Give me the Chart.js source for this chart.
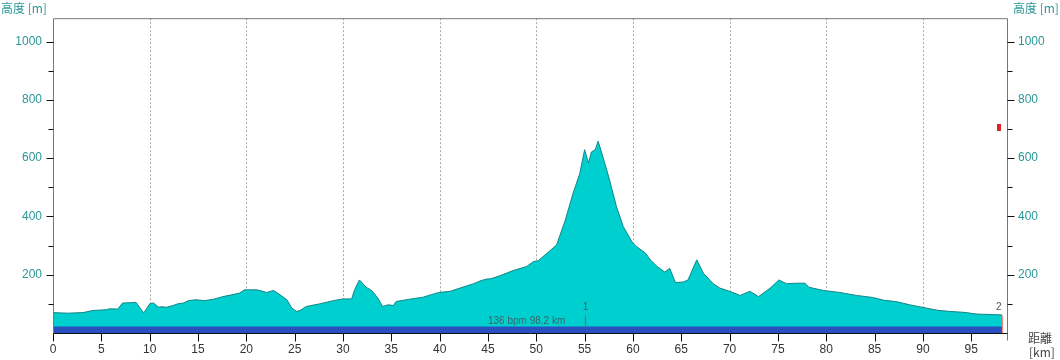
<!DOCTYPE html>
<html>
<head>
<meta charset="utf-8">
<script src="https://cdn.jsdelivr.net/npm/chart.js@4.4.1/dist/chart.umd.min.js"></script>
<style>
  html, body { margin: 0; padding: 0; background: #fff; }
  #wrap { width: 1060px; height: 360px; }
</style>
</head>
<body>
<div id="wrap"><canvas id="profile" width="1060" height="360"></canvas></div>
<script>
// elevation profile
const distanceKm = [0, 1.5, 3.1, 4.1, 5.5, 5.9, 6.7, 7.2, 8.0, 8.6, 9.0, 9.4, 10.0, 10.4, 10.9, 11.4, 11.7, 12.4, 12.9, 13.5,
  14.0, 14.8, 15.7, 16.6, 17.6, 18.5, 19.3, 19.8, 21.1, 21.7, 22.1, 22.8, 23.5, 24.2, 24.7, 25.2, 25.6, 26.2, 27.6, 29.0,
  30.0, 30.9, 31.2, 31.7, 32.4, 33.0, 33.6, 34.1, 34.7, 35.2, 35.5, 36.9, 38.3, 39.9, 41.1, 42.1, 43.5, 44.3, 45.0, 45.2,
  46.2, 47.6, 49.0, 49.7, 50.2, 51.4, 52.1, 53.0, 53.8, 54.5, 55.0, 55.4, 55.7, 56.1, 56.4, 56.8, 57.5, 58.3, 59.0, 59.9,
  60.4, 61.3, 61.8, 62.5, 63.3, 63.8, 64.4, 65.2, 65.7, 66.6, 67.3, 68.3, 69.0, 70.0, 71.1, 72.1, 73.0, 74.2, 75.1, 75.9,
  77.0, 77.8, 78.2, 79.7, 81.4, 83.1, 84.8, 86.0, 87.2, 88.6, 89.8, 91.5, 92.8, 94.2, 95.6, 98.2];
const elevationM = [70, 68, 70, 77, 80, 83, 82, 103, 104, 105, 86, 69, 100, 103, 89, 90, 88, 94, 100, 103,
  111, 114, 111, 116, 125, 131, 137, 148, 148, 143, 139, 146, 131, 114, 86, 74, 78, 91, 100, 111,
  117, 117, 148, 182, 157, 145, 120, 91, 97, 94, 108, 116, 123, 139, 143, 154, 169, 180, 186, 185,
  196, 214, 228, 245, 248, 282, 302, 387, 479, 547, 629, 583, 621, 629, 658, 615, 535, 433, 365, 313,
  296, 274, 251, 228, 209, 222, 173, 175, 182, 251, 205, 169, 154, 143, 129, 143, 125, 154, 182, 169,
  171, 171, 157, 146, 139, 129, 122, 112, 108, 97, 89, 78, 74, 71, 65, 62];

// heart-rate band along the bottom
const bandKm = [0, 98.2];
const bandM = [22, 22];

const xTickKm = [0, 5, 10, 15, 20, 25, 30, 35, 40, 45, 50, 55, 60, 65, 70, 75, 80, 85, 90, 95];
const xGridKm = [10, 20, 30, 40, 50, 60, 70, 80, 90];
const yTickM = [200, 400, 600, 800, 1000];
const yMinorM = [100, 300, 500, 700, 900];

const lapKm = [55, 98.2];
const lapNames = ["1", "2"];
const summaryText = "136 bpm 98.2 km";
const summaryKm = 45;
const hrMarkKm = [97.9];
const hrMarkM = [707];

const TEAL_TEXT = "#2a9696";
const numFont = "Liberation Sans, Arial, sans-serif";
const cjkFont = "'Noto Sans CJK JP', sans-serif";

const framePlugin = {
    id: "profileFrame",
    beforeDatasetsDraw(chart) {
        const { ctx, chartArea } = chart;
        const xs = chart.scales.x;
        ctx.save();
        ctx.strokeStyle = "#a8a8a8";
        ctx.lineWidth = 1;
        ctx.setLineDash([2, 2]);
        xGridKm.forEach((km) => {
            const px = Math.round(xs.getPixelForValue(km)) + 0.5;
            ctx.beginPath();
            ctx.moveTo(px, chartArea.top);
            ctx.lineTo(px, chartArea.bottom);
            ctx.stroke();
        });
        ctx.restore();
    },
    afterDatasetsDraw(chart) {
        const { ctx, chartArea } = chart;
        const xs = chart.scales.x;
        const ys = chart.scales.y;
        const left = chartArea.left + 0.5;
        const right = chartArea.right + 0.5;
        const top = chartArea.top + 0.5;
        const bottom = chartArea.bottom + 0.5;

        ctx.save();
        // frame
        ctx.lineWidth = 1;
        ctx.strokeStyle = "#777";
        ctx.beginPath();
        ctx.moveTo(left, bottom);
        ctx.lineTo(left, top);
        ctx.lineTo(right, top);
        ctx.lineTo(right, bottom + 7);
        ctx.stroke();
        ctx.strokeStyle = "#111";
        ctx.beginPath();
        ctx.moveTo(left, bottom);
        ctx.lineTo(right, bottom);
        ctx.stroke();

        // x ticks
        xTickKm.forEach((km) => {
            const px = Math.round(xs.getPixelForValue(km)) + 0.5;
            ctx.beginPath();
            ctx.moveTo(px, bottom);
            ctx.lineTo(px, bottom + 8);
            ctx.stroke();
        });

        // y ticks, both sides
        const yTick = (m, len) => {
            const py = Math.round(ys.getPixelForValue(m)) + 0.5;
            ctx.beginPath();
            ctx.moveTo(left - len, py);
            ctx.lineTo(left, py);
            ctx.moveTo(right, py);
            ctx.lineTo(right + len, py);
            ctx.stroke();
        };
        yTickM.forEach((m) => yTick(m, 7));
        yMinorM.forEach((m) => yTick(m, 5));

        // lap markers
        lapKm.forEach((km, i) => {
            const px = Math.round(xs.getPixelForValue(km)) + 0.5;
            const last = i === lapKm.length - 1;
            const yTop = ys.getPixelForValue(60);
            const yBot = last ? chartArea.bottom : ys.getPixelForValue(bandM[0]);
            ctx.strokeStyle = last ? "#f08a80" : "#c84848";
            ctx.lineWidth = 1.2;
            ctx.beginPath();
            ctx.moveTo(px, yTop);
            ctx.lineTo(px, yBot);
            ctx.stroke();
            ctx.fillStyle = "#555";
            ctx.font = "10px " + numFont;
            ctx.textAlign = last ? "right" : "center";
            ctx.textBaseline = "bottom";
            ctx.fillText(lapNames[i], last ? px - 1 : px, yTop - 3);
        });

        // summary
        ctx.fillStyle = "#3f6363";
        ctx.font = "10px " + numFont;
        ctx.textAlign = "left";
        ctx.textBaseline = "alphabetic";
        ctx.fillText(summaryText, xs.getPixelForValue(summaryKm), ys.getPixelForValue(bandM[0]) - 3);

        // heart-rate marker
        ctx.fillStyle = "#e02424";
        hrMarkKm.forEach((km, i) => {
            const px = xs.getPixelForValue(km);
            const py = ys.getPixelForValue(hrMarkM[i]);
            ctx.fillRect(Math.round(px) - 2, Math.round(py) - 3, 4, 7);
        });

        // titles
        ctx.fillStyle = TEAL_TEXT;
        ctx.font = "12px " + cjkFont;
        ctx.textBaseline = "middle";
        ctx.textAlign = "left";
        ctx.fillText("高度 [m]", 1, 8);
        ctx.fillText("高度 [m]", 1013, 8);
        ctx.fillStyle = "#444";
        ctx.fillText("距離", 1028, 338);
        ctx.fillText("[km]", 1029, 352);
        ctx.restore();
    },
};

const yAxis = (position) => ({
    type: "linear",
    position,
    min: 0,
    max: 1080,
    afterFit: (s) => { s.width = 53; },
    afterBuildTicks: (s) => { s.ticks = yTickM.map((v) => ({ value: v })); },
    grid: { display: false, drawTicks: false },
    border: { display: false },
    ticks: {
        color: TEAL_TEXT,
        padding: 11,
        font: { family: numFont, size: 12 },
        callback: (v) => String(v),
    },
});

new Chart(document.getElementById("profile"), {
    type: "line",
    data: {
        datasets: [
            {
                label: "band",
                data: bandKm.map((x, i) => ({ x, y: bandM[i] })),
                fill: "origin",
                backgroundColor: "#2a50bf",
                borderWidth: 0,
                pointRadius: 0,
                order: 0,
            },
            {
                label: "elevation",
                data: distanceKm.map((x, i) => ({ x, y: elevationM[i] })),
                fill: "origin",
                backgroundColor: "#00cfcf",
                borderColor: "#138585",
                borderWidth: 1,
                pointRadius: 0,
                tension: 0,
                order: 1,
            },
        ],
    },
    options: {
        responsive: false,
        animation: false,
        layout: { padding: { top: 17, left: 0, right: 0, bottom: 0 } },
        plugins: { legend: { display: false }, tooltip: { enabled: false } },
        scales: {
            x: {
                type: "linear",
                min: 0,
                max: 98.7,
                afterFit: (s) => { s.height = 27; },
                afterBuildTicks: (s) => { s.ticks = xTickKm.map((v) => ({ value: v })); },
                grid: { display: false, drawTicks: false },
                border: { display: false },
                ticks: {
                    color: "#333",
                    padding: 9,
                    maxRotation: 0,
                    autoSkip: false,
                    font: { family: numFont, size: 12 },
                },
            },
            y: yAxis("left"),
            y2: yAxis("right"),
        },
    },
    plugins: [framePlugin],
});
</script>
</body>
</html>
